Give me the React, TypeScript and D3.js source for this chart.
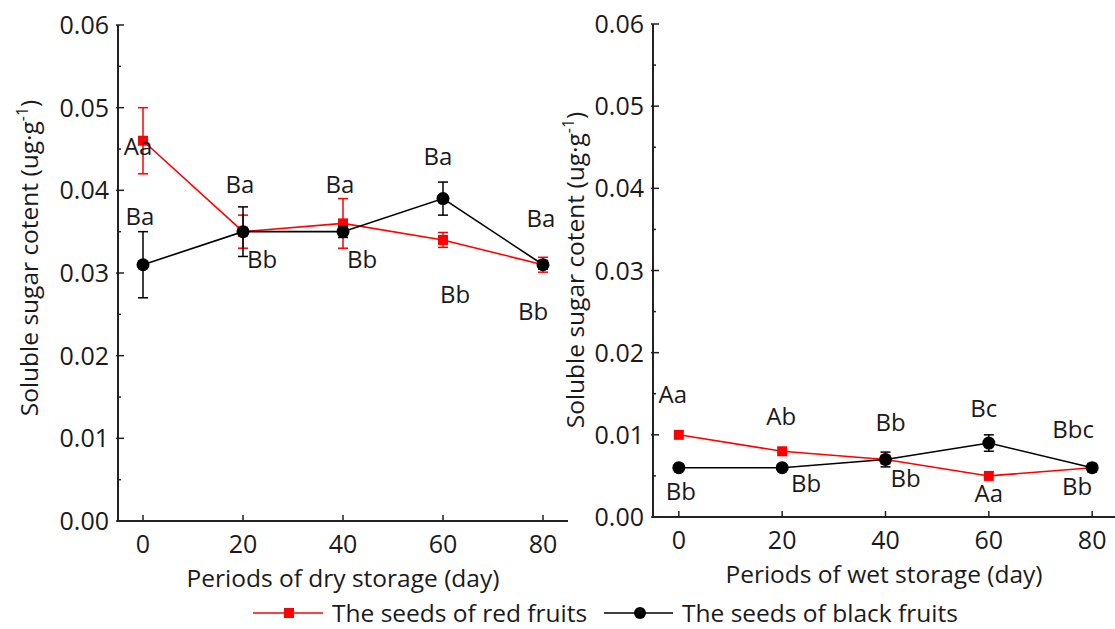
import React from 'react'
import * as d3 from 'd3'

// storage periods (day)
const days = [0, 20, 40, 60, 80]
const yTicks = [0, 0.01, 0.02, 0.03, 0.04, 0.05, 0.06]

// dry storage
const dryRed = [0.046, 0.035, 0.036, 0.034, 0.031]
const dryRedErr = [0.004, 0.002, 0.003, 0.0009, 0.0009]
const dryBlack = [0.031, 0.035, 0.035, 0.039, 0.031]
const dryBlackErr = [0.004, 0.003, 0.0007, 0.002, 0.0005]
const dryRedLabels = ['Aa', 'Bb', 'Bb', 'Bb', 'Bb']
const dryBlackLabels = ['Ba', 'Ba', 'Ba', 'Ba', 'Ba']

// wet storage
const wetRed = [0.01, 0.008, 0.007, 0.005, 0.006]
const wetRedErr = [0, 0, 0, 0, 0]
const wetBlack = [0.006, 0.006, 0.007, 0.009, 0.006]
const wetBlackErr = [0, 0, 0.0009, 0.001, 0]
const wetRedLabels = ['Aa', 'Ab', 'Bb', 'Aa', 'Bb']
const wetBlackLabels = ['Bb', 'Bb', 'Bb', 'Bc', 'Bbc']

const legendNames = ['The seeds of red fruits', 'The seeds of black fruits']

// label offsets from the point (dx, dy to text baseline)
const dryRedOff = [[-5, 14], [19, 36], [19, 45], [12, 63], [-10, 55]]
const dryBlackOff = [[-3, -40], [-3, -39], [-3, -39], [-5, -34], [-2, -38]]
const wetRedOff = [[-6, -32], [-1, -26], [20, 28], [0, 26], [-15, 27]]
const wetBlackOff = [[2, 32], [24, 24], [5, -28], [-5, -26], [-19, -30]]

const FONT = "'Open Sans', sans-serif"
const RED = '#ff0000'
const INK = '#1a1a1a'

function Panel({ xr, yr, red, redErr, black, blackErr, redLabels, blackLabels, redOff, blackOff, xTitle, titleX, titleY, xTitleY }) {
  const x = d3.scaleLinear().domain([-5, 85]).range(xr)
  const y = d3.scaleLinear().domain([0, 0.06]).range(yr)
  const line = d3.line().x((d, i) => x(days[i])).y(d => y(d))
  const minor = d3.range(0.005, 0.06, 0.01)
  const x0 = xr[0]
  const y0 = yr[0]

  const errBars = (vals, errs, color) => vals.map((v, i) => errs[i] > 0 ? (
    <g key={i} stroke={color} strokeWidth={1.5}>
      <line x1={x(days[i])} x2={x(days[i])} y1={y(v - errs[i])} y2={y(v + errs[i])} />
      <line x1={x(days[i]) - 5} x2={x(days[i]) + 5} y1={y(v - errs[i])} y2={y(v - errs[i])} />
      <line x1={x(days[i]) - 5} x2={x(days[i]) + 5} y1={y(v + errs[i])} y2={y(v + errs[i])} />
    </g>
  ) : null)

  const labels = (vals, texts, offs) => vals.map((v, i) => (
    <text key={i} x={x(days[i]) + offs[i][0]} y={y(v) + offs[i][1]} textAnchor="middle" fontSize={24} fill={INK}>{texts[i]}</text>
  ))

  return (
    <g fontFamily={FONT}>
      {/* axes */}
      <line x1={x0} x2={x0} y1={yr[1]} y2={y0} stroke="#222" strokeWidth={2} />
      <line x1={x0 - 1} x2={xr[1]} y1={y0} y2={y0} stroke="#222" strokeWidth={2} />
      {yTicks.map(t => (
        <g key={t}>
          <line x1={x0 - 2} x2={x0 + 6} y1={y(t)} y2={y(t)} stroke="#222" strokeWidth={1.5} />
          <text x={x0 - 9} y={y(t)} dy="0.36em" textAnchor="end" fontSize={25} fill={INK}>{d3.format('.2f')(t)}</text>
        </g>
      ))}
      {minor.map(t => (
        <line key={t} x1={x0} x2={x0 + 3} y1={y(t)} y2={y(t)} stroke="#222" strokeWidth={1.5} />
      ))}
      {days.map(d => (
        <g key={d}>
          <line x1={x(d)} x2={x(d)} y1={y0} y2={y0 - 6} stroke="#222" strokeWidth={1.5} />
          <text x={x(d)} y={y0 + 32} textAnchor="middle" fontSize={25} fill={INK}>{d}</text>
        </g>
      ))}
      <text x={(xr[0] + Math.min(xr[1], 1115)) / 2} y={xTitleY} textAnchor="middle" fontSize={24.5} fill={INK}>{xTitle}</text>
      <text transform={`translate(${titleX},${titleY}) rotate(-90)`} textAnchor="middle" fontSize={24.5} fill={INK}>
        Soluble sugar cotent (ug·g<tspan fontSize={16} dy={-10}>-1</tspan><tspan dy={10}>)</tspan>
      </text>

      {/* red series */}
      <path d={line(red)} fill="none" stroke={RED} strokeWidth={1.6} />
      {errBars(red, redErr, RED)}
      {red.map((v, i) => (
        <rect key={i} x={x(days[i]) - 5} y={y(v) - 5} width={10} height={10} fill={RED} />
      ))}

      {/* black series */}
      <path d={line(black)} fill="none" stroke="#000" strokeWidth={1.6} />
      {errBars(black, blackErr, '#000')}
      {black.map((v, i) => (
        <circle key={i} cx={x(days[i])} cy={y(v)} r={6.5} fill="#000" />
      ))}

      {labels(red, redLabels, redOff)}
      {labels(black, blackLabels, blackOff)}
    </g>
  )
}

export default function App() {
  return (
    <svg width={1115} height={629} style={{ position: 'absolute', left: 0, top: 0, background: '#fff' }}>
      <Panel xr={[118, 568]} yr={[521, 25]} red={dryRed} redErr={dryRedErr} black={dryBlack} blackErr={dryBlackErr}
        redLabels={dryRedLabels} blackLabels={dryBlackLabels} redOff={dryRedOff} blackOff={dryBlackOff}
        xTitle="Periods of dry storage (day)" titleX={38} titleY={258} xTitleY={587} />
      <Panel xr={[653, 1118]} yr={[517, 24]} red={wetRed} redErr={wetRedErr} black={wetBlack} blackErr={wetBlackErr}
        redLabels={wetRedLabels} blackLabels={wetBlackLabels} redOff={wetRedOff} blackOff={wetBlackOff}
        xTitle="Periods of wet storage (day)" titleX={584} titleY={270} xTitleY={583} />
      <g fontFamily={FONT}>
        <line x1={253} x2={323} y1={613} y2={613} stroke={RED} strokeWidth={1.6} />
        <rect x={284} y={608} width={10} height={10} fill={RED} />
        <text x={332} y={622} fontSize={24.5} fill={INK}>{legendNames[0]}</text>
        <line x1={604} x2={673} y1={613} y2={613} stroke="#000" strokeWidth={1.6} />
        <circle cx={640} cy={613} r={6} fill="#000" />
        <text x={682} y={622} fontSize={24.5} fill={INK}>{legendNames[1]}</text>
      </g>
    </svg>
  )
}
